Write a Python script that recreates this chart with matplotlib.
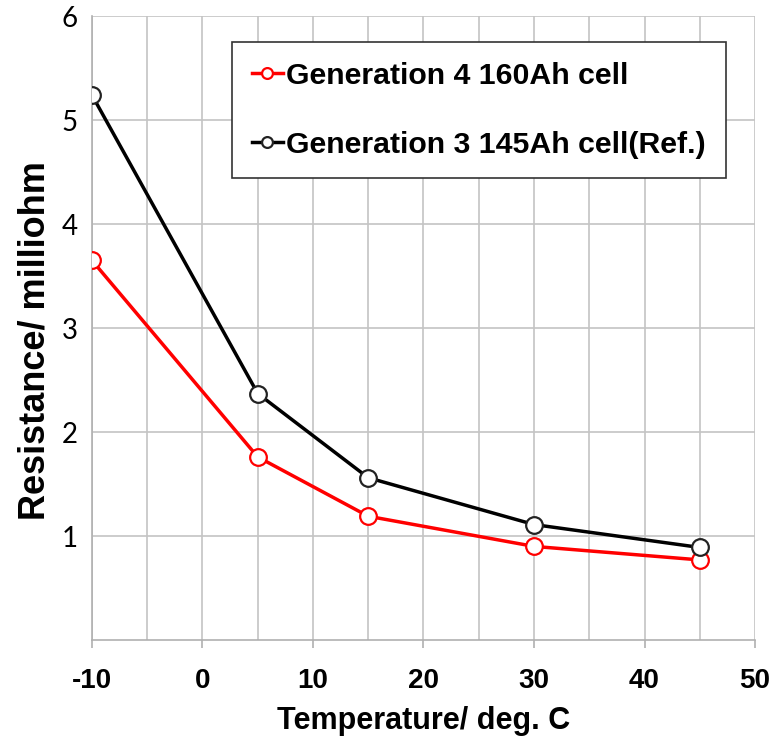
import matplotlib
matplotlib.use('Agg')
import matplotlib.pyplot as plt
from matplotlib.ticker import MultipleLocator

# data
temperature = [-10, 5, 15, 30, 45]
gen4_resistance = [3.65, 1.76, 1.19, 0.90, 0.77]
gen3_resistance = [5.24, 2.37, 1.56, 1.11, 0.89]
labels = ['Generation 4 160Ah cell', 'Generation 3 145Ah cell(Ref.)']

x_ticks = [-10, 0, 10, 20, 30, 40, 50]
y_ticks = [1, 2, 3, 4, 5, 6]

plt.rcParams['axes.unicode_minus'] = False

fig = plt.figure(figsize=(7.82, 7.41), dpi=100)
ax = fig.add_axes([0.1176, 0.1363, 0.8479, 0.8421])

grid_color = '#c4c4c4'

ax.plot(temperature, gen4_resistance, color='#ff0000', lw=2.5, marker='o', ms=12,
        mfc='white', mec='#ff0000', mew=1.6, label=labels[0], zorder=3)
ax.plot(temperature, gen3_resistance, color='black', lw=2.5, marker='o', ms=12,
        mfc='white', mec='#222222', mew=1.6, label=labels[1], zorder=3)

ax.set_xlim(-10, 50)
ax.set_ylim(0, 6)
ax.set_xticks(x_ticks)
ax.set_yticks(y_ticks)
ax.xaxis.set_minor_locator(MultipleLocator(5))

ax.grid(True, which='both', color=grid_color, lw=1.2)
ax.set_axisbelow(True)

for side in ['top', 'right']:
    ax.spines[side].set_visible(False)
for side in ['left', 'bottom']:
    ax.spines[side].set_color('#b0b0b0')
    ax.spines[side].set_linewidth(1.2)

ax.tick_params(axis='x', which='major', length=6, color='#b0b0b0', width=1.2, pad=14)
ax.tick_params(axis='x', which='minor', length=0)
ax.tick_params(axis='y', length=0, pad=10)

for t in ax.get_xticklabels():
    t.set_fontfamily('Liberation Sans')
    t.set_fontweight('bold')
    t.set_fontsize(20)
for t in ax.get_yticklabels():
    t.set_fontfamily('Lato')
    t.set_fontsize(20)

ax.set_xlabel('Temperature/ deg. C', fontsize=22, fontweight='bold',
              fontfamily='Liberation Sans')
ax.xaxis.set_label_coords(0.5, -0.105)
ax.set_ylabel('Resistance/ milliohm', fontsize=26, fontweight='bold',
              fontfamily='Liberation Sans')
ax.yaxis.set_label_coords(-0.06, 0.48)

leg = ax.legend(loc='upper left', bbox_to_anchor=(0.211, 0.958), frameon=True,
                fancybox=False, edgecolor='#333333', framealpha=1,
                prop={'family': 'Liberation Sans', 'weight': 'bold', 'size': 21.8},
                handlelength=1.05, handletextpad=0.1, labelspacing=1.35,
                borderpad=0.65, markerscale=0.65, borderaxespad=0)
leg.get_frame().set_linewidth(1.2)

fig.savefig('out.png', dpi=100)
